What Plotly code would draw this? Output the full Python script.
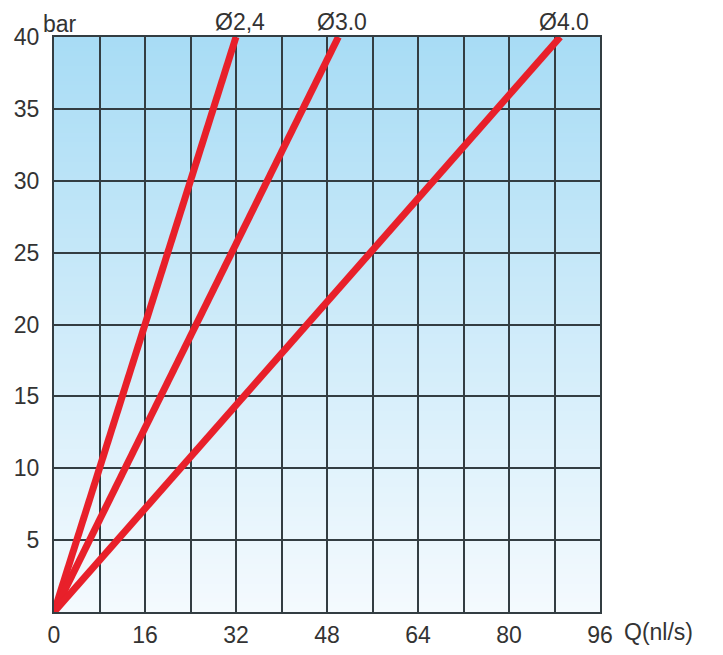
import plotly.graph_objects as go

# Data
pressure_bar = [0, 40]
nozzles = ["Ø2,4", "Ø3.0", "Ø4.0"]
flow_at_max = [32, 50, 89]  # Q (nl/s) at 40 bar
x_ticks = [0, 8, 16, 24, 32, 40, 48, 56, 64, 72, 80, 88, 96]
x_ticktext = ["0", "", "16", "", "32", "", "48", "", "64", "", "80", "", "96"]
y_ticks = [5, 10, 15, 20, 25, 30, 35, 40]

fig = go.Figure()

RED = "#e8202a"
GRID = "#333d42"
TXT = "#333333"
FONT = "Liberation Sans, Arial, sans-serif"
FS = 23

for name, q in zip(nozzles, flow_at_max):
    fig.add_trace(go.Scatter(
        x=[0, q], y=pressure_bar, mode="lines", name=name,
        line=dict(color=RED, width=7), showlegend=False, hoverinfo="skip",
        cliponaxis=False))
    fig.add_annotation(x=q, y=pressure_bar[-1], text=name, showarrow=False,
                       xanchor="center", yanchor="bottom", yshift=0, xshift=4,
                       font=dict(family=FONT, size=FS, color=TXT))

# gradient background bands (top light blue -> bottom near white)
top = (168, 220, 245)
bot = (244, 250, 254)
n = 120
shapes = []
for i in range(n):
    t = i / (n - 1)
    c = tuple(round(bot[k] + (top[k] - bot[k]) * t) for k in range(3))
    y0 = i / n
    y1 = (i + 1) / n + 0.002
    shapes.append(dict(type="rect", xref="paper", yref="paper", x0=0, x1=1,
                       y0=y0, y1=min(y1, 1), line=dict(width=0),
                       fillcolor="rgb(%d,%d,%d)" % c, layer="below"))

fig.update_layout(
    width=707, height=639,
    margin=dict(l=46, r=115, t=29, b=35),
    paper_bgcolor="white", plot_bgcolor="white",
    shapes=shapes,
    font=dict(family=FONT, size=FS, color=TXT),
    xaxis=dict(range=[0, 96], tickvals=x_ticks, ticktext=x_ticktext,
               showgrid=True, gridcolor=GRID, gridwidth=2,
               showline=True, linecolor=GRID, linewidth=2, mirror=True,
               zeroline=False, ticks="", ticklen=0, automargin=False,
               ticklabelstandoff=1),
    yaxis=dict(range=[0, 40], tickvals=y_ticks,
               showgrid=True, gridcolor=GRID, gridwidth=2,
               showline=True, linecolor=GRID, linewidth=2, mirror=True,
               zeroline=False, ticks="", ticklen=0, automargin=False,
               ticklabelstandoff=8),
)

fig.add_annotation(xref="paper", yref="paper", x=0, y=1, text="bar",
                   showarrow=False, xanchor="center", yanchor="bottom",
                   xshift=6, yshift=-2, font=dict(family=FONT, size=FS, color=TXT))
fig.add_annotation(xref="paper", yref="paper", x=1, y=0, text="Q(nl/s)",
                   showarrow=False, xanchor="left", yanchor="top",
                   xshift=22, yshift=-5, font=dict(family=FONT, size=FS, color=TXT))

fig.write_html("out.html")
